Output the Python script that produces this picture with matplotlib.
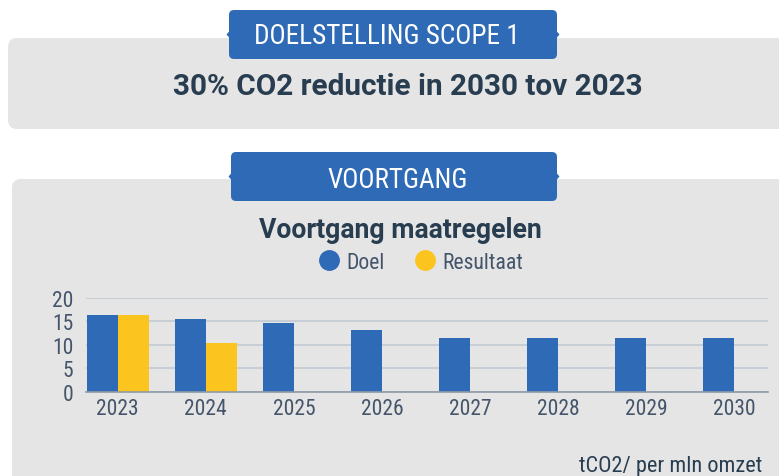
import numpy as np
import matplotlib
matplotlib.use('Agg')
import matplotlib.pyplot as plt
from matplotlib import font_manager
from matplotlib.patches import FancyBboxPatch, Polygon
from matplotlib.lines import Line2D

# data
jaren = ['2023', '2024', '2025', '2026', '2027', '2028', '2029', '2030']
doel = [16.4, 15.6, 14.7, 13.2, 11.5, 11.5, 11.5, 11.5]
resultaat = [16.4, 10.3, np.nan, np.nan, np.nan, np.nan, np.nan, np.nan]
y_ticks = [0, 5, 10, 15, 20]

# kleuren
blauw = '#2f6ab7'
geel = '#fcc41f'
grijs = '#e5e5e5'
donker = '#283d4f'
label_kleur = '#44546a'

# smal lettertype zoeken
entries = font_manager.fontManager.ttflist
namen = {f.name for f in entries}
stretch = 'normal'
if 'Liberation Sans Narrow' in namen:
    smal = 'Liberation Sans Narrow'
elif 'Roboto Condensed' in namen:
    smal = 'Roboto Condensed'
elif any(f.name == 'DejaVu Sans' and f.stretch == 'condensed' for f in entries):
    smal = 'DejaVu Sans'
    stretch = 'condensed'
else:
    smal = 'Roboto'
narrow = [smal, 'DejaVu Sans']
bold_font = ['Roboto', 'DejaVu Sans']

W, H = 779, 477
fig = plt.figure(figsize=(W / 100, H / 100), dpi=100)
fig.patch.set_facecolor('white')

# achtergrond in pixelcoordinaten
bg = fig.add_axes([0, 0, 1, 1])
bg.set_xlim(0, W)
bg.set_ylim(H, 0)
bg.axis('off')


def paneel(x, y, w, h):
    bg.add_patch(FancyBboxPatch((x, y), w, h, boxstyle='round,pad=0,rounding_size=9',
                                fc=grijs, ec='none'))


def lint(x, y, w, h, tekst, tx, ty):
    bg.add_patch(FancyBboxPatch((x, y), w, h, boxstyle='round,pad=0,rounding_size=5',
                                fc=blauw, ec='none'))
    m = y + h / 2
    bg.add_patch(Polygon([[x + 1, m - 4], [x - 2.5, m], [x + 1, m + 4]], fc=blauw, ec='none'))
    bg.add_patch(Polygon([[x + w - 1, m - 4], [x + w + 2.5, m], [x + w - 1, m + 4]], fc=blauw, ec='none'))
    bg.text(tx, ty, tekst, color='white', fontsize=19.5, family=narrow, fontstretch=stretch,
            ha='center', va='baseline')


paneel(8, 39, 800, 91)
paneel(12, 180, 800, 320)
lint(229, 11, 328, 49, 'DOELSTELLING SCOPE 1', 387, 44.3)
lint(231, 153, 326, 49, 'VOORTGANG', 397.5, 187.7)

bg.text(408, 95, '30% CO2 reductie in 2030 tov 2023', color=donker, fontsize=21.4,
        family=bold_font, weight='bold', ha='center', va='baseline')
bg.text(400, 238, 'Voortgang maatregelen', color=donker, fontsize=19.2,
        family=bold_font, weight='bold', ha='center', va='baseline')
bg.text(762, 472.5, 'tCO2/ per mln omzet', color=donker, fontsize=16,
        family=narrow, fontstretch=stretch, ha='right', va='baseline')

# grafiek
x0, x1 = 86, 768
y0, y1 = 392.7, 299
ax = fig.add_axes([x0 / W, 1 - y0 / H, (x1 - x0) / W, (y0 - y1) / H])
ax.set_facecolor('none')

x = np.arange(len(jaren))
w = 0.352
ax.bar(x, doel, width=w, align='edge', color=blauw, zorder=3, label='Doel')
ax.bar(x + w, resultaat, width=w, align='edge', color=geel, zorder=3, label='Resultaat')

ax.set_xlim(-0.008, 7.733)
ax.set_ylim(0, 20)
ax.set_yticks(y_ticks)
ax.set_xticks(x + w)
ax.set_xticklabels(jaren)
for s in ['top', 'right', 'left']:
    ax.spines[s].set_visible(False)
ax.spines['bottom'].set_color('#8d99a6')
ax.spines['bottom'].set_linewidth(1.2)
ax.spines['bottom'].set_zorder(4)
ax.grid(axis='y', color='#c3cad2', linewidth=1.2, zorder=0)
ax.tick_params(length=0, colors=label_kleur, labelsize=15.5)
ax.tick_params(axis='y', pad=9)
ax.tick_params(axis='x', pad=4.5)
for lab in ax.get_xticklabels() + ax.get_yticklabels():
    lab.set_family(narrow)
    lab.set_fontstretch(stretch)

handles = [Line2D([], [], ls='none', marker='o', ms=14, color=blauw),
           Line2D([], [], ls='none', marker='o', ms=14, color=geel)]
leg = fig.legend(handles, ['Doel', 'Resultaat'], loc='center', ncol=2, frameon=False,
                 bbox_to_anchor=(421.5 / W, 1 - 263.5 / H), handlelength=0.9,
                 handletextpad=0.35, columnspacing=1.4,
                 prop={'family': narrow, 'size': 15.7, 'stretch': stretch})
for t in leg.get_texts():
    t.set_color(label_kleur)

fig.savefig('out.png', dpi=100)
